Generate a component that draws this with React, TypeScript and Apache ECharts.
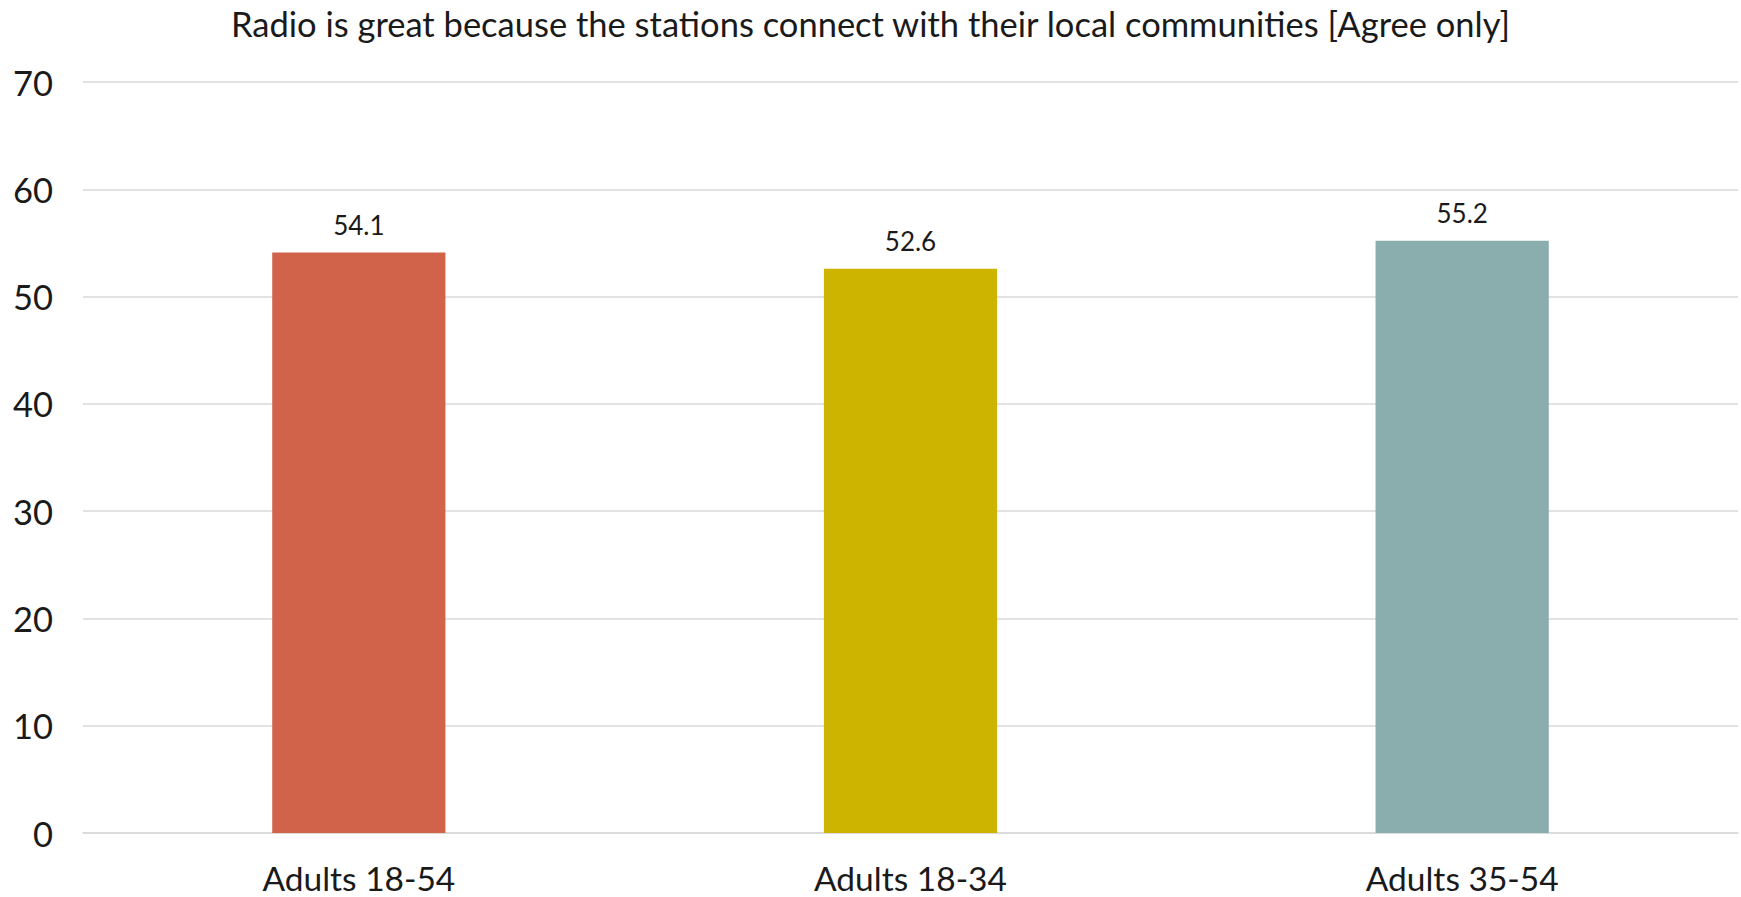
import React, { useEffect, useRef } from "react";
import * as echarts from "echarts";

const titleText = "Radio is great because the stations connect with their local communities [Agree only]";
const categories = ["Adults 18-54", "Adults 18-34", "Adults 35-54"];
const values = [54.1, 52.6, 55.2];
const barColors = ["#D0634A", "#CCB400", "#8AADAD"];
const yTicks = { min: 0, max: 70, interval: 10 };

const FONT = "Lato";

export default function App() {
  const ref = useRef<HTMLDivElement>(null);
  useEffect(() => {
    document.body.style.margin = "0";
    const chart = echarts.init(ref.current!, null, { renderer: "svg" });
    chart.setOption({
      animation: false,
      backgroundColor: "#ffffff",
      title: {
        text: titleText,
        left: "center",
        top: 1,
        textStyle: { fontFamily: FONT, fontSize: 34.5, fontWeight: "normal", color: "#1a1a1a" },
      },
      grid: { left: 83, right: 3, top: 82, bottom: 64, containLabel: false },
      xAxis: {
        type: "category",
        data: categories,
        axisLine: { show: true, lineStyle: { color: "#d9d9d9", width: 1.5 } },
        axisTick: { show: false },
        axisLabel: { fontFamily: FONT, fontSize: 33.5, lineHeight: 30, color: "#1a1a1a", margin: 30 },
      },
      yAxis: {
        type: "value",
        min: yTicks.min,
        max: yTicks.max,
        interval: yTicks.interval,
        axisLine: { show: false },
        axisTick: { show: false },
        splitLine: { lineStyle: { color: "#d9d9d9", width: 1.5 } },
        axisLabel: { fontFamily: FONT, fontSize: 34.5, color: "#1a1a1a", margin: 30 },
      },
      series: [
        {
          type: "bar",
          data: values.map((v, i) => ({ value: v, itemStyle: { color: barColors[i] } })),
          barWidth: "31.4%",
          label: {
            show: true,
            position: "top",
            distance: 15,
            fontFamily: FONT,
            fontSize: 26,
            color: "#1a1a1a",
          },
        },
      ],
    });
    return () => chart.dispose();
  }, []);
  return <div ref={ref} style={{ position: "absolute", left: 0, top: 0, width: 1741, height: 897 }} />;
}
